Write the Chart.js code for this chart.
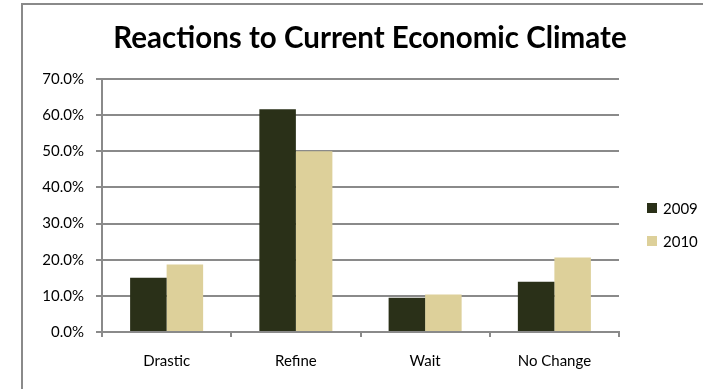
<!DOCTYPE html>
<html>
<head>
<meta charset="utf-8">
<script src="https://cdn.jsdelivr.net/npm/chart.js@4"></script>
<style>
  html, body { margin: 0; padding: 0; background: #fff; overflow: hidden; }
  #wrap { position: relative; width: 703px; height: 389px; }
  #frame { position: absolute; left: 21px; top: 3px; width: 800px; height: 500px; border: 2px solid #8a8a8a; box-sizing: border-box; pointer-events: none; }
  canvas { position: absolute; left: 0; top: 0; }
</style>
</head>
<body>
<div id="wrap">
  <canvas id="chart" width="703" height="389"></canvas>
  <div id="frame"></div>
</div>
<script>
// categories and series (percent of respondents)
const categories = ["Drastic", "Refine", "Wait", "No Change"];
const years = ["2009", "2010"];
const values2009 = [15.0, 61.6, 9.5, 13.9];
const values2010 = [18.7, 50.0, 10.4, 20.6];
const yTicks = [0, 10, 20, 30, 40, 50, 60, 70];
const chartTitle = "Reactions to Current Economic Climate";

const colors = ["#2a3018", "#ddd09a"];
const gridColor = "#8a8a8a";
const font = "Lato, 'Open Sans', sans-serif";

// title over the whole frame, legend at the right side
const decorations = {
  id: "decorations",
  afterDraw(chart) {
    const ctx = chart.ctx;
    ctx.save();
    ctx.fillStyle = "#000";
    ctx.font = "bold 29.5px " + font;
    ctx.textAlign = "center";
    ctx.textBaseline = "alphabetic";
    ctx.fillText(chartTitle, 370, 48);

    ctx.textAlign = "left";
    ctx.font = "15px " + font;
    ctx.textBaseline = "middle";
    chart.data.datasets.forEach((ds, i) => {
      const y = 208 + i * 33;
      ctx.fillStyle = ds.backgroundColor;
      ctx.fillRect(647, y - 5, 10, 10);
      ctx.fillStyle = "#000";
      ctx.fillText(ds.label, 663, y + 1);
    });
    ctx.restore();
  }
};

new Chart(document.getElementById("chart"), {
  type: "bar",
  data: {
    labels: categories,
    datasets: [
      { label: years[0], data: values2009, backgroundColor: colors[0] },
      { label: years[1], data: values2010, backgroundColor: colors[1] }
    ]
  },
  options: {
    responsive: false,
    animation: false,
    layout: { padding: { left: 0, right: 84, top: 79, bottom: 4 } },
    datasets: { bar: { categoryPercentage: 0.565, barPercentage: 1 } },
    plugins: {
      legend: { display: false },
      tooltip: { enabled: false },
      title: { display: false }
    },
    scales: {
      x: {
        grid: { drawOnChartArea: false, drawTicks: true, tickLength: 5, color: gridColor, lineWidth: 2 },
        border: { color: gridColor, width: 2 },
        ticks: { color: "#000", font: { family: font, size: 15 }, padding: 15 }
      },
      y: {
        min: 0,
        max: 70,
        afterFit(scale) { scale.width = 102; },
        afterBuildTicks(scale) { scale.ticks = yTicks.map(v => ({ value: v })); },
        grid: { color: gridColor, lineWidth: 2, tickLength: 6 },
        border: { color: gridColor, width: 2 },
        ticks: {
          color: "#000",
          font: { family: font, size: 15 },
          padding: 12,
          callback: v => v.toFixed(1) + "%"
        }
      }
    }
  },
  plugins: [decorations]
});
</script>
</body>
</html>
